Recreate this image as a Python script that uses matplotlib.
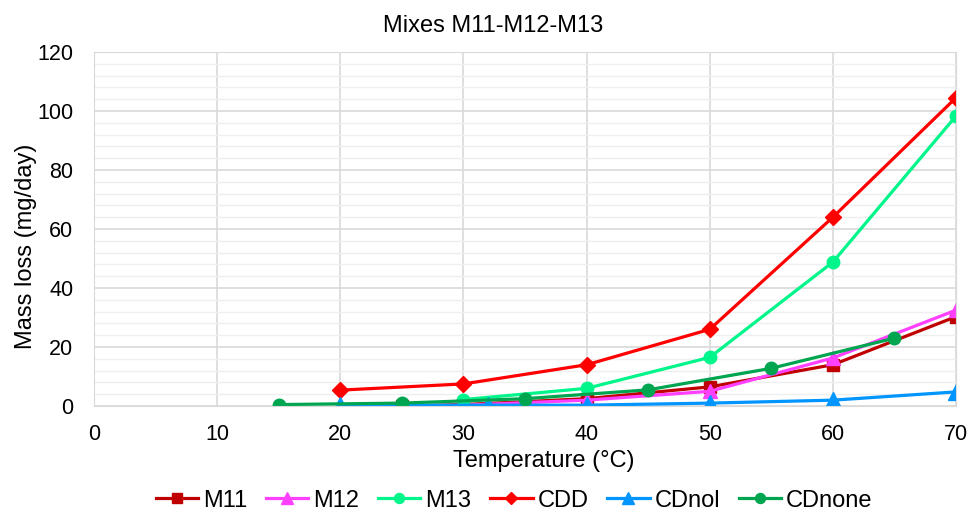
import matplotlib.pyplot as plt
from matplotlib.ticker import MultipleLocator

plt.rcParams['font.family'] = ['Liberation Sans', 'DejaVu Sans']

# temperature (°C) and mass loss (mg/day) per mix
m11_t = [25, 30, 40, 50, 60, 70]
m11_y = [0.0, 0.5, 2.5, 6.5, 14.0, 30.3]
m12_t = [25, 30, 40, 50, 60, 70]
m12_y = [-0.5, 0.3, 2.0, 5.0, 16.3, 32.5]
m13_t = [30, 40, 50, 60, 70]
m13_y = [2.2, 6.0, 16.5, 48.8, 98.3]
cdd_t = [20, 30, 40, 50, 60, 70]
cdd_y = [5.4, 7.5, 14.0, 26.0, 64.0, 104.5]
cdnol_t = [20, 32, 40, 50, 60, 70]
cdnol_y = [0.3, 0.3, 0.3, 1.0, 2.0, 4.8]
cdnone_t = [15, 25, 35, 45, 55, 65]
cdnone_y = [0.5, 1.0, 2.5, 5.5, 12.8, 23.0]

fig = plt.figure(figsize=(9.7, 5.14), dpi=100)
ax = fig.add_axes([0.097, 0.210, 0.8886, 0.689])

ax.plot(m11_t, m11_y, color='#C00000', marker='s', ms=8.5, lw=2.3, label='M11')
ax.plot(m12_t, m12_y, color='#FF40FF', marker='^', ms=10, lw=2.3, label='M12')
ax.plot(m13_t, m13_y, color='#00F58A', marker='o', ms=9, lw=2.3, label='M13')
ax.plot(cdd_t, cdd_y, color='#FF0000', marker='D', ms=8, lw=2.3, label='CDD')
ax.plot(cdnol_t, cdnol_y, color='#0095FF', marker='^', ms=11, lw=2.3, label='CDnol')
ax.plot(cdnone_t, cdnone_y, color='#00A550', marker='o', ms=9, lw=2.3, label='CDnone')

ax.set_xlim(0, 70)
ax.set_ylim(0, 120)
ax.xaxis.set_major_locator(MultipleLocator(10))
ax.yaxis.set_major_locator(MultipleLocator(20))
ax.yaxis.set_minor_locator(MultipleLocator(4))
ax.grid(which='major', color='#D9D9D9', lw=1.2)
ax.grid(which='minor', axis='y', color='#EFEFEF', lw=1.0)
ax.set_axisbelow(True)
for s in ax.spines.values():
    s.set_color('#D9D9D9')
ax.tick_params(which='both', length=0, labelsize=15.5)
ax.tick_params(axis='x', pad=13)
ax.tick_params(axis='y', pad=15)

fig.text(0.508, 0.9377, 'Mixes M11-M12-M13', fontsize=17,
         ha='center', va='baseline')
ax.set_xlabel('Temperature (°C)', fontsize=17)
ax.xaxis.set_label_coords(0.522, -0.125)
ax.set_ylabel('Mass loss (mg/day)', fontsize=17)
ax.yaxis.set_label_coords(-0.066, 0.452)

fig.legend(loc='center', ncol=6, frameon=False, fontsize=17,
           bbox_to_anchor=(0.530, 0.026), handlelength=1.8,
           handletextpad=0.2, columnspacing=0.8, markerscale=0.8)

fig.savefig('out.png', dpi=100)
